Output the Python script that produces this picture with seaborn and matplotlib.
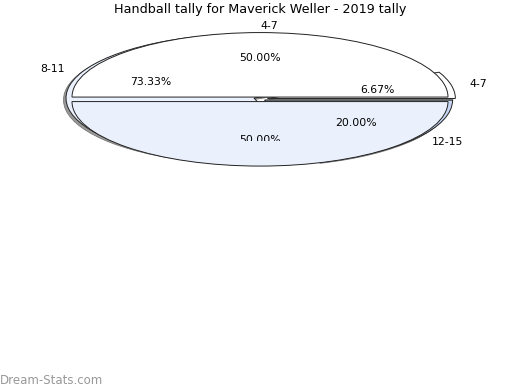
import matplotlib
matplotlib.use("Agg")
import matplotlib.pyplot as plt
import seaborn as sns
from matplotlib.transforms import Bbox

sns.set_theme(style="white")
plt.rcParams['font.family'] = ['DejaVu Sans']

title = "Handball tally for Maverick Weller - 2019 tally"

# Front pie (two halves)
front_labels = ['4-7', '12-15']
front_values = [50.0, 50.0]
front_colors = ['#ffffff', '#eaf0fc']

# Back pie
back_labels = ['8-11', '4-7', '12-15']
back_values = [73.33, 6.67, 20.00]
back_colors = ['#eaf0fc', '#ffffff', '#c6d6f2']

W, H = 520, 390
cx, cy, rx, ry = 260, 99, 188, 64.5

fig = plt.figure(figsize=(W / 100, H / 100), dpi=100)
ax = fig.add_axes([0, 0, 1, 1])

edge = dict(edgecolor='#222222', linewidth=0.7)

# shadow
ax.pie(back_values, colors=['#9a9a9a'] * 3, startangle=288, counterclock=False,
       explode=[0.035, 0.04, 0.03], center=(-2.5 / rx, -1.8 / ry),
       wedgeprops=dict(edgecolor='#777777', linewidth=0.6))

# back pie
wb, tb, ab = ax.pie(back_values, labels=back_labels, colors=back_colors,
                    startangle=288, counterclock=False,
                    explode=[0.035, 0.04, 0.03], autopct='%.2f%%',
                    labeldistance=1.1, pctdistance=0.6,
                    wedgeprops=edge, textprops=dict(fontsize=7.8, color='black'))

# front pie
wf, tf, af = ax.pie(front_values, labels=front_labels, colors=front_colors,
                    startangle=0, counterclock=True, explode=[0.035, 0.035],
                    center=(0, -0.005), autopct='%.2f%%',
                    labeldistance=1.1, pctdistance=0.6,
                    wedgeprops=edge, textprops=dict(fontsize=7.8, color='black'))
tf[0].set_ha('left')
tf[1].set_visible(False)
af[1].set_clip_box(Bbox.from_extents(0, H - 140.5, W, H))
af[1].set_clip_on(True)

ax.set_aspect('auto')
ax.set_xlim((0 - cx) / rx, (W - cx) / rx)
ax.set_ylim((cy - H) / ry, cy / ry)
ax.axis('off')

fig.text(0.5, 1 - 10 / H, title, ha='center', va='center', fontsize=9.2, color='black')
fig.text(0 / W, 1 - 380 / H, 'Dream-Stats.com', ha='left', va='center',
         fontsize=8.5, color='#999999')

fig.savefig('out.png', dpi=100)
